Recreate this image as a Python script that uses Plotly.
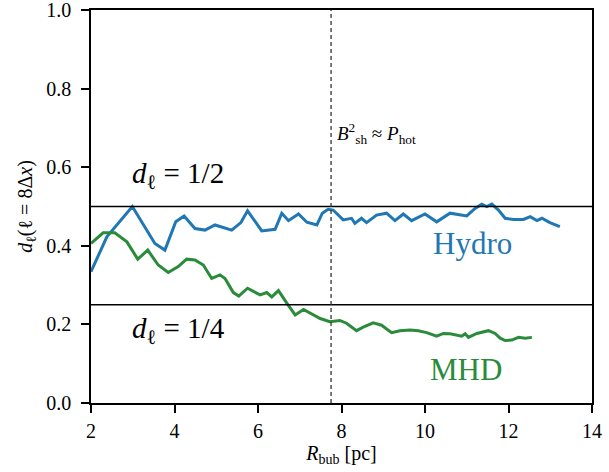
import plotly.graph_objects as go

hydro_x = [2.0, 2.38, 2.99, 3.53, 3.77, 4.03, 4.23, 4.49, 4.73, 4.97, 5.37, 5.59, 5.75, 6.09, 6.41,
           6.57, 6.73, 6.97, 7.17, 7.41, 7.54, 7.68, 7.80, 8.04, 8.24, 8.32, 8.48, 8.60, 8.84, 9.08,
           9.28, 9.48, 9.68, 10.0, 10.28, 10.60, 11.0, 11.20, 11.36, 11.48, 11.60, 11.76, 11.92,
           12.12, 12.36, 12.52, 12.68, 12.80, 12.99, 13.23]
hydro_y = [0.334, 0.423, 0.500, 0.406, 0.389, 0.461, 0.476, 0.444, 0.440, 0.453, 0.440, 0.459, 0.489,
           0.438, 0.442, 0.483, 0.464, 0.481, 0.460, 0.453, 0.483, 0.493, 0.491, 0.466, 0.470, 0.457,
           0.470, 0.459, 0.478, 0.483, 0.464, 0.481, 0.464, 0.481, 0.461, 0.483, 0.476, 0.495, 0.506,
           0.500, 0.506, 0.491, 0.470, 0.467, 0.467, 0.474, 0.464, 0.470, 0.459, 0.449]

mhd_x = [2.0, 2.29, 2.57, 2.86, 3.12, 3.36, 3.61, 3.85, 4.09, 4.29, 4.49, 4.69, 4.89, 5.09, 5.21,
         5.41, 5.54, 5.75, 6.05, 6.21, 6.33, 6.49, 6.69, 6.89, 7.09, 7.29, 7.49, 7.72, 7.96, 8.12,
         8.36, 8.52, 8.76, 8.96, 9.20, 9.40, 9.64, 9.84, 10.04, 10.28, 10.44, 10.60, 10.76, 10.88,
         10.96, 11.04, 11.24, 11.52, 11.68, 11.80, 11.92, 12.08, 12.24, 12.40, 12.56]
mhd_y = [0.406, 0.433, 0.433, 0.410, 0.366, 0.389, 0.351, 0.332, 0.347, 0.366, 0.364, 0.351, 0.317,
         0.326, 0.317, 0.281, 0.272, 0.292, 0.275, 0.281, 0.270, 0.286, 0.254, 0.224, 0.238, 0.226,
         0.215, 0.207, 0.210, 0.203, 0.184, 0.193, 0.204, 0.198, 0.179, 0.184, 0.186, 0.184, 0.179,
         0.170, 0.177, 0.176, 0.173, 0.170, 0.176, 0.167, 0.177, 0.184, 0.177, 0.165, 0.159, 0.160,
         0.167, 0.165, 0.167]

x_ticks = [2, 4, 6, 8, 10, 12, 14]
y_ticks = [0.0, 0.2, 0.4, 0.6, 0.8, 1.0]
ref_levels = [0.5, 0.25]
b_sh_x = 7.75

BLUE = "#1f77b4"
GREEN = "#2a8b3b"
FONT = "'Liberation Serif', 'DejaVu Serif', 'Noto Serif', serif"

fig = go.Figure()
fig.add_trace(go.Scatter(x=hydro_x, y=hydro_y, mode="lines",
                         line=dict(color=BLUE, width=3), showlegend=False))
fig.add_trace(go.Scatter(x=mhd_x, y=mhd_y, mode="lines",
                         line=dict(color=GREEN, width=3), showlegend=False))

for lv in ref_levels:
    fig.add_hline(y=lv, line=dict(color="black", width=1.3))
fig.add_vline(x=b_sh_x, line=dict(color="#333333", width=1.3, dash="4px,3px"))

fig.add_annotation(x=2.93, y=0.58, xanchor="left", yanchor="middle", showarrow=False,
                   text="<i>d</i><sub>ℓ</sub> = 1/2", font=dict(family=FONT, size=29, color="black"))
fig.add_annotation(x=2.93, y=0.186, xanchor="left", yanchor="middle", showarrow=False,
                   text="<i>d</i><sub>ℓ</sub> = 1/4", font=dict(family=FONT, size=29, color="black"))
fig.add_annotation(x=7.84, y=0.685, xanchor="left", yanchor="middle", showarrow=False,
                   text="<i>B</i><sup>2</sup><sub>sh</sub> ≈ <i>P</i><sub>hot</sub>",
                   font=dict(family=FONT, size=19, color="black"))
fig.add_annotation(x=11.13, y=0.407, xanchor="center", yanchor="middle", showarrow=False,
                   text="Hydro", font=dict(family=FONT, size=31, color=BLUE))
fig.add_annotation(x=10.98, y=0.084, xanchor="center", yanchor="middle", showarrow=False,
                   text="MHD", font=dict(family=FONT, size=31, color=GREEN))

axis_common = dict(showline=True, mirror=True, linecolor="black", linewidth=1.5,
                   ticks="outside", ticklen=8, tickwidth=1.5, tickcolor="black",
                   showgrid=False, zeroline=False, automargin=False,
                   ticklabeloverflow="allow",
                   tickfont=dict(family=FONT, size=20, color="black"))

fig.update_xaxes(range=[2, 14], tickvals=x_ticks, ticktext=[str(v) for v in x_ticks],
                 ticklabelstandoff=1,
                 title=dict(text="<i>R</i><sub>bub</sub> [pc]", font=dict(family=FONT, size=20, color="black"),
                            standoff=5),
                 **axis_common)
fig.update_yaxes(range=[0, 1], tickvals=y_ticks, ticktext=[f"{v:.1f}" for v in y_ticks],
                 ticklabelstandoff=6,
                 title=dict(text="<i>d</i><sub>ℓ</sub>(ℓ = 8Δ<i>x</i>)", font=dict(family=FONT, size=20, color="black"),
                            standoff=8),
                 **axis_common)

fig.update_layout(width=609, height=472, margin=dict(l=91, r=17, t=10, b=69),
                  plot_bgcolor="white", paper_bgcolor="white")

fig.write_html("out.html", config={"displayModeBar": False},
               post_script="document.body.style.margin='0';document.body.style.overflow='hidden';")
